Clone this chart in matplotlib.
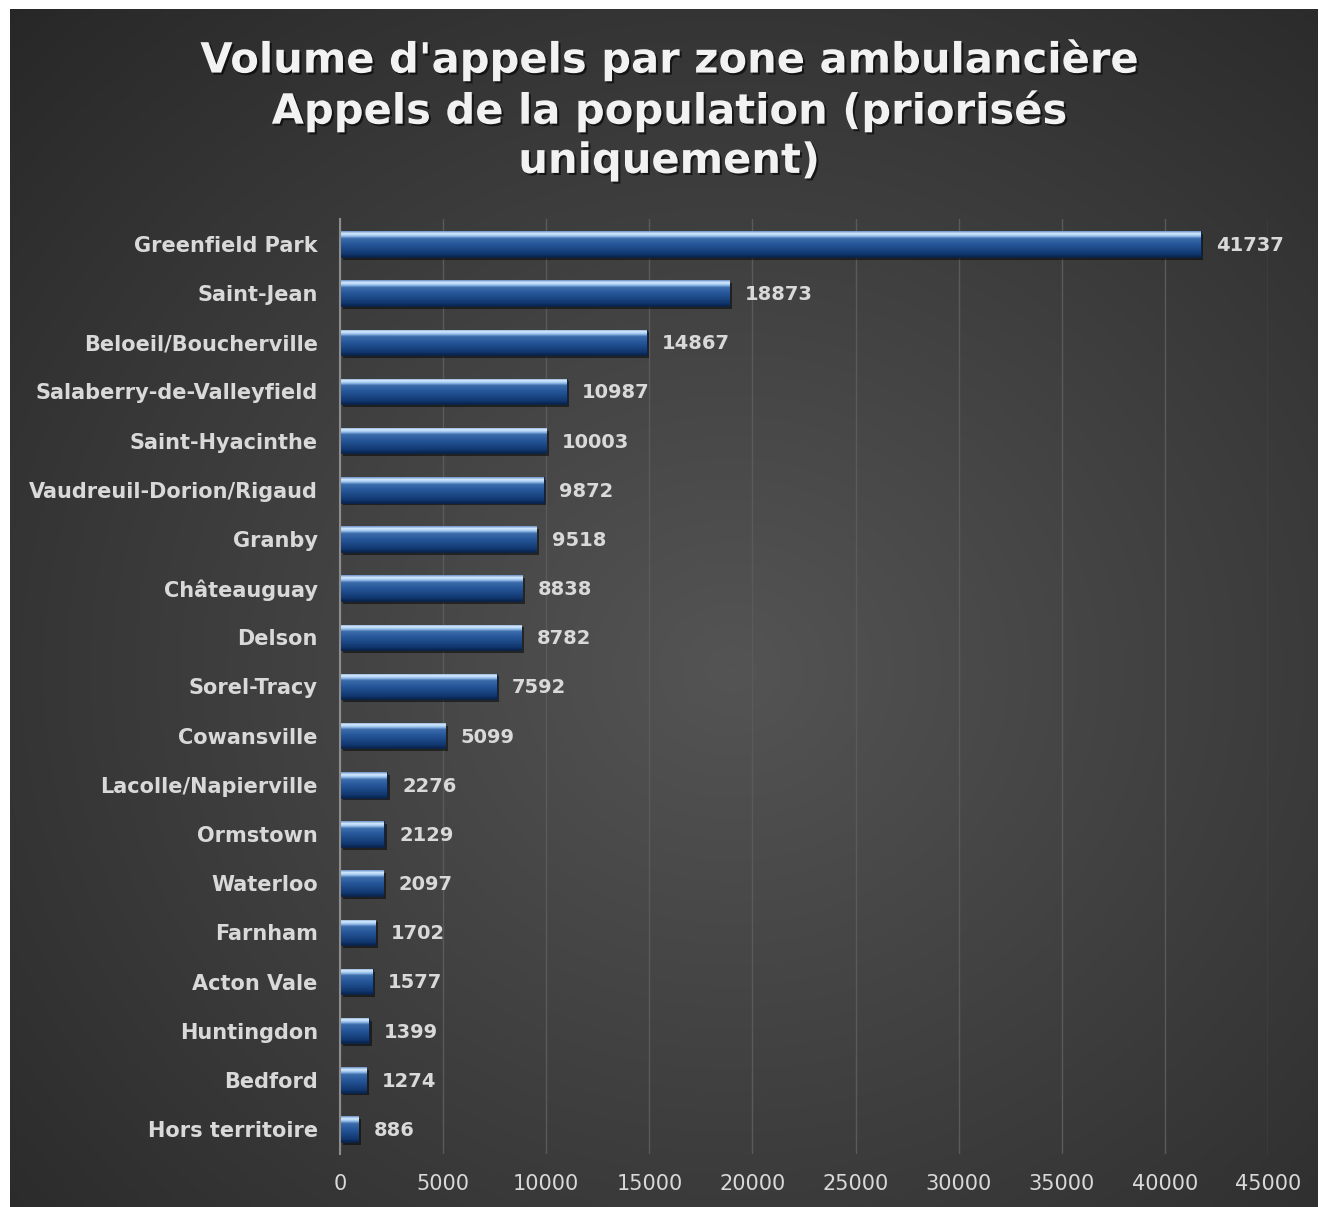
import numpy as np
import matplotlib
matplotlib.use("Agg")
import matplotlib.pyplot as plt
import matplotlib.patheffects as pe
from matplotlib.colors import LinearSegmentedColormap

categories = ["Greenfield Park", "Saint-Jean", "Beloeil/Boucherville", "Salaberry-de-Valleyfield",
              "Saint-Hyacinthe", "Vaudreuil-Dorion/Rigaud", "Granby", "Châteauguay", "Delson",
              "Sorel-Tracy", "Cowansville", "Lacolle/Napierville", "Ormstown", "Waterloo",
              "Farnham", "Acton Vale", "Huntingdon", "Bedford", "Hors territoire"]
values = [41737, 18873, 14867, 10987, 10003, 9872, 9518, 8838, 8782, 7592, 5099,
          2276, 2129, 2097, 1702, 1577, 1399, 1274, 886]
xticks = [0, 5000, 10000, 15000, 20000, 25000, 30000, 35000, 40000, 45000]
title = "Volume d'appels par zone ambulancière\nAppels de la population (priorisés\nuniquement)"

W, H = 1319, 1207
fig = plt.figure(figsize=(W / 100, H / 100), dpi=100, facecolor="white")

# background panel with radial gradient
bg = fig.add_axes([10 / W, 0, (1318 - 10) / W, (H - 9) / H])
bg.set_axis_off()
ny, nx = 300, 330
yy, xx = np.mgrid[0:ny, 0:nx]
cx, cy = nx * 0.55, ny * 0.55
r = np.sqrt(((xx - cx) / nx) ** 2 + ((yy - cy) / ny) ** 2)
r = r / r.max()
v = 0.33 - (0.33 - 0.155) * np.clip(r, 0, 1) ** 1.0
img = np.dstack([v, v, v])
bg.imshow(img, aspect="auto", extent=[0, 1, 0, 1], interpolation="bilinear")
bg.set_xlim(0, 1)
bg.set_ylim(0, 1)

# main axes
x0, x1 = 340 / W, 1268 / W
ytop, ybot = 219.4, 1153.6
ax = fig.add_axes([x0, 1 - ybot / H, x1 - x0, (ybot - ytop) / H])
ax.patch.set_alpha(0)

pos = np.arange(len(categories))
bars = ax.barh(pos, values, height=0.52, color="#1a447f", zorder=3,
               path_effects=[pe.SimplePatchShadow(offset=(2, -2), shadow_rgbFace="black", alpha=0.5),
                             pe.Normal()])

cmap = LinearSegmentedColormap.from_list("bar", [
    (0.0, "#0a2550"), (0.12, "#113870"), (0.5, "#26579a"), (0.72, "#3c6cab"),
    (0.82, "#9cc4f0"), (0.91, "#d8ecff"), (1.0, "#6a92c8")])
grad = np.linspace(1, 0, 64).reshape(-1, 1)
for b in bars:
    bx, by, bw, bh = b.get_x(), b.get_y(), b.get_width(), b.get_height()
    im = ax.imshow(grad, cmap=cmap, vmin=0, vmax=1, aspect="auto", origin="upper",
                   extent=[bx, bx + bw, by + bh, by], zorder=4, interpolation="bilinear")
    im.set_clip_path(b)
    b.set_edgecolor("#0a2248")
    b.set_linewidth(0.6)

for b, val in zip(bars, values):
    ax.annotate(f"{val}", (b.get_width(), b.get_y() + b.get_height() / 2),
                xytext=(11, -1), textcoords="offset points", va="center", ha="left",
                fontsize=14, fontweight="bold", color="#d9d9d9", family="DejaVu Sans")

ax.set_xlim(0, 45000)
ax.set_ylim(len(categories) - 0.5, -0.5)
ax.set_yticks(pos)
ax.set_yticklabels(categories, fontsize=15, fontweight="bold", color="#d9d9d9")
ax.set_xticks(xticks)
ax.set_xticklabels([str(t) for t in xticks], fontsize=15, color="#d9d9d9")
ax.tick_params(axis="y", length=0, pad=16)
ax.tick_params(axis="x", length=0, pad=15)
ax.grid(axis="x", color="#5a5a5a", linewidth=1, zorder=0)
ax.set_axisbelow(True)
for s in ["top", "right", "bottom"]:
    ax.spines[s].set_visible(False)
ax.spines["left"].set_color("#8c8c8c")
ax.spines["left"].set_linewidth(1.5)
ax.spines["left"].set_zorder(5)

fig.text(669 / W, 1 - 110 / H, title, ha="center", va="center", fontsize=30,
         fontweight="bold", color="#f2f2f2", linespacing=1.22,
         path_effects=[pe.withSimplePatchShadow(offset=(1.5, -1.5), shadow_rgbFace="black", alpha=0.6)])

fig.savefig("out.png", dpi=100, facecolor="white")
